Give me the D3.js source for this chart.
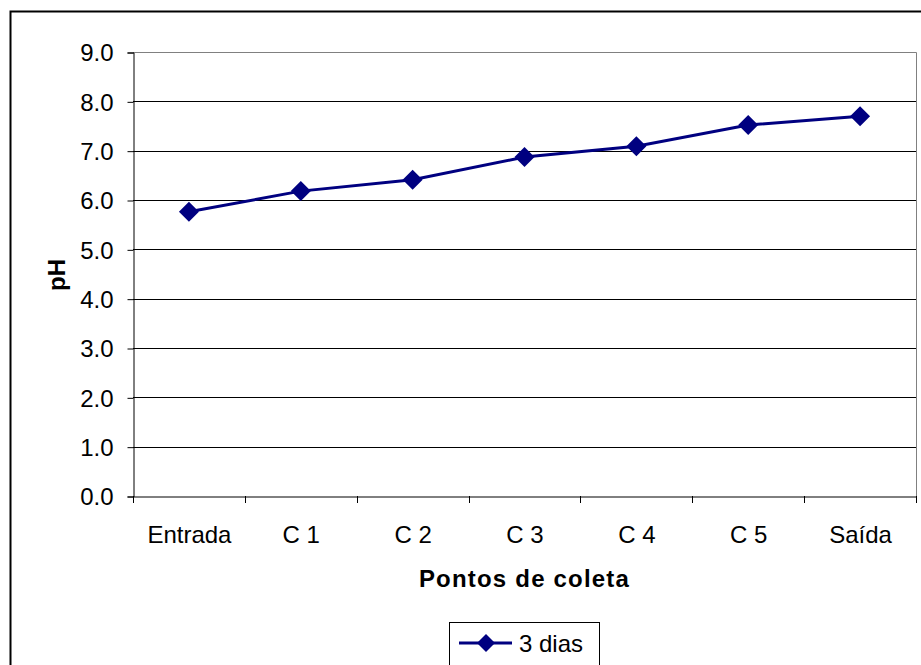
<!DOCTYPE html>
<html><head><meta charset="utf-8">
<script src="https://cdn.jsdelivr.net/npm/d3@7"></script>
<style>body{margin:0;background:#fff}svg{display:block}text{font-family:"Liberation Sans",Arial,sans-serif}</style>
</head><body>
<svg id="c" width="921" height="665"></svg>
<script>
const categories = ["Entrada","C 1","C 2","C 3","C 4","C 5","Saída"];
const values = [5.76, 6.18, 6.41, 6.87, 7.09, 7.52, 7.70];
const yTicks = [0,1,2,3,4,5,6,7,8,9];
const seriesName = "3 dias";
const xTitle = "Pontos de coleta";
const yTitle = "pH";

const svg = d3.select("#c");
const L = 133, R = 916, T = 52, B = 496;
const color = "#000080";

svg.append("rect").attr("x",10.5).attr("y",11.5).attr("width",940).attr("height",700)
  .attr("fill","#fff").attr("stroke","#000").attr("stroke-width",2);

const x = d3.scaleBand().domain(categories).range([L,R]);
const y = d3.scaleLinear().domain([0,9]).range([B,T]);

// gridlines
svg.append("g").selectAll("line").data(yTicks.filter(v=>v>0 && v<9)).join("line")
  .attr("x1",L).attr("x2",R).attr("y1",d=>Math.round(y(d))+0.5).attr("y2",d=>Math.round(y(d))+0.5)
  .attr("stroke","#000").attr("stroke-width",1);
// plot border (top, right)
svg.append("path").attr("d",`M${L},${T+0.5}H${R+0.5}V${B}`).attr("fill","none").attr("stroke","#808080").attr("stroke-width",1);

// y axis
const yAxis = svg.append("g").attr("transform",`translate(${L+0.5},0.5)`)
  .call(d3.axisLeft(y).tickValues(yTicks).tickFormat(d3.format(".1f")).tickSize(6).tickPadding(14));
yAxis.attr("font-size",null).attr("font-family",null);
yAxis.select(".domain").attr("stroke","#000");
yAxis.selectAll(".tick line").attr("stroke","#000");
yAxis.selectAll("text").style("font-size","24px").attr("fill","#000").attr("dy","0.35em");

// x axis
const xAxis = svg.append("g").attr("transform",`translate(0.5,${B+0.5})`)
  .call(d3.axisBottom(x).tickSize(0).tickPadding(28));
xAxis.attr("font-size",null).attr("font-family",null);
xAxis.select(".domain").attr("stroke","#000");
xAxis.selectAll("text").style("font-size","24px").attr("fill","#000").attr("y",46).attr("dy",0);
svg.append("g").selectAll("line").data(categories.concat(["__end"])).join("line")
  .attr("x1",(d,i)=>Math.round(L + i*x.bandwidth())+0.5).attr("x2",(d,i)=>Math.round(L + i*x.bandwidth())+0.5)
  .attr("y1",B).attr("y2",B+7).attr("stroke","#000");

// line
const cx = d => x(d) + x.bandwidth()/2;
svg.append("path").datum(values)
  .attr("d", d3.line().x((d,i)=>cx(categories[i])).y(d=>y(d)))
  .attr("fill","none").attr("stroke",color).attr("stroke-width",3);
const diamond = (s)=>`M0,${-s}L${s},0L0,${s}L${-s},0Z`;
svg.append("g").selectAll("path").data(values).join("path")
  .attr("transform",(d,i)=>`translate(${cx(categories[i])},${y(d)})`)
  .attr("d",diamond(10)).attr("fill",color);

// titles
svg.append("text").attr("x",(L+R)/2).attr("y",587).attr("text-anchor","middle")
  .style("font-size","24px").style("letter-spacing","1.2px").attr("font-weight","bold").text(xTitle);
svg.append("text").attr("transform","translate(65,275) rotate(-90)").attr("text-anchor","middle")
  .style("font-size","24px").attr("font-weight","bold").text(yTitle);

// legend
const lg = svg.append("g");
lg.append("rect").attr("x",449.5).attr("y",622.5).attr("width",150).attr("height",60)
  .attr("fill","#fff").attr("stroke","#000");
lg.append("line").attr("x1",459).attr("x2",512).attr("y1",643).attr("y2",643).attr("stroke",color).attr("stroke-width",3);
lg.append("path").attr("transform","translate(486,643)").attr("d",diamond(9)).attr("fill",color);
lg.append("text").attr("x",519).attr("y",652).style("font-size","24px").text(seriesName);
</script>
</body></html>
